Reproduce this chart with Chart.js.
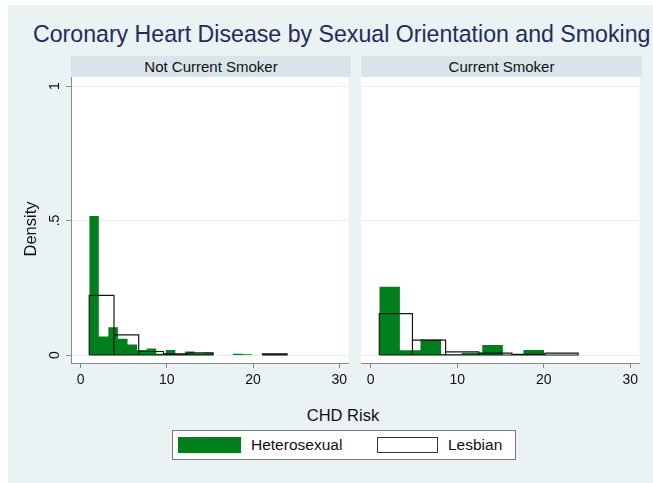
<!DOCTYPE html>
<html><head><meta charset="utf-8">
<script src="https://cdn.jsdelivr.net/npm/chart.js@4.4.1/dist/chart.umd.min.js"></script>
<style>
body{margin:0;width:653px;height:483px;background:#fff;overflow:hidden;position:relative;font-family:"Liberation Sans",Arial,Helvetica,sans-serif}
#bg{position:absolute;left:8px;top:5px;width:645px;height:478px;background:#eaf2f3}
#title{position:absolute;left:33px;top:23.3px;font-size:23.15px;line-height:23px;color:#1e2d5c;white-space:nowrap}
.strip{position:absolute;top:56px;height:21px;line-height:21px;background:#d8e5ea;font-size:15px;color:#111;text-align:center;white-space:nowrap}
.cw{position:absolute;top:77px}
#xtitle{position:absolute;left:243px;width:200px;top:404.7px;text-align:center;font-size:16.5px;line-height:20px;color:#111}
#legend{position:absolute;left:171.5px;top:430px;width:342px;height:28px;border:1px solid #7a7a7a;background:#fff}
.sw{position:absolute;top:436.5px;height:16.5px;box-sizing:border-box}
.lt{position:absolute;top:436.2px;font-size:15.5px;line-height:18px;color:#111;white-space:nowrap}
</style></head><body>
<div id="bg"></div>
<div id="title">Coronary Heart Disease by Sexual Orientation and Smoking</div>
<div class="strip" id="s0" style="left:71px;width:280px"></div>
<div class="strip" id="s1" style="left:361px;width:281px"></div>
<div class="cw" style="left:0px"><canvas id="c0" width="351" height="323"></canvas></div>
<div class="cw" style="left:361px"><canvas id="c1" width="281" height="323"></canvas></div>
<div id="xtitle"></div>
<div id="legend"></div>
<div class="sw" id="sw0" style="left:178px;width:62.7px"></div>
<div class="lt" id="lt0" style="left:251px"></div>
<div class="sw" id="sw1" style="left:376.7px;width:61px;border:1.3px solid #333;background:#fff"></div>
<div class="lt" id="lt1" style="left:448px"></div>
<script>
// ---- data ----
const panels = ['Not Current Smoker', 'Current Smoker'];
const seriesNames = ['Heterosexual', 'Lesbian'];
const xTitle = 'CHD Risk';
const yTitle = 'Density';
const xTicks = [0, 10, 20, 30];
const yTicks = [0, 0.5, 1];
const yTickLabels = ['0', '.5', '1'];

// Not current smoker
const hetNotStart = 1.0, hetNotWidth = 1.11;
const hetNotDensity = [0.517, 0.069, 0.103, 0.060, 0.039, 0.019, 0.024, 0.005, 0.019, 0.004, 0.013, 0.007, 0.008, 0, 0, 0.005, 0.003];
const lesNotStart = 1.0, lesNotWidth = 2.87;
const lesNotDensity = [0.222, 0.075, 0.013, 0.004, 0.008, 0, 0, 0.004];
// Current smoker
const hetCurStart = 1.0, hetCurWidth = 2.38;
const hetCurDensity = [0.254, 0.018, 0.058, 0.003, 0.008, 0.037, 0, 0.019];
const lesCurStart = 1.0, lesCurWidth = 3.83;
const lesCurDensity = [0.154, 0.055, 0.012, 0.007, 0.002, 0.007];

// ---- style ----
const GREEN = '#007f1c';
const FONT = '"Liberation Sans", Arial, Helvetica, sans-serif';
const xMin = -1.115, xMax = 31.07;
const yMin = -0.0297, yMax = 1.0335;

document.getElementById('s0').textContent = panels[0];
document.getElementById('s1').textContent = panels[1];
document.getElementById('xtitle').textContent = xTitle;
document.getElementById('lt0').textContent = seriesNames[0];
document.getElementById('lt1').textContent = seriesNames[1];
document.getElementById('sw0').style.background = GREEN;

function stepProfile(start, width, dens) {
  const pts = [{x: start, y: 0}];
  dens.forEach((d, i) => {
    const x0 = start + i * width, x1 = x0 + width;
    pts.push({x: x0, y: d}, {x: x1, y: d});
  });
  pts.push({x: start + dens.length * width, y: 0});
  return pts;
}
function outlineRects(start, width, dens) {
  const pts = [];
  dens.forEach((d, i) => {
    if (d <= 0) return;
    const x0 = start + i * width, x1 = x0 + width;
    pts.push({x: x0, y: 0}, {x: x0, y: d}, {x: x1, y: d}, {x: x1, y: 0}, {x: x0, y: 0}, {x: x1, y: null});
  });
  return pts;
}

const whiteArea = {
  id: 'whiteArea',
  beforeDraw(chart) {
    const {ctx, chartArea: a} = chart;
    ctx.save(); ctx.fillStyle = '#fff';
    ctx.fillRect(a.left, a.top, a.right - a.left, a.bottom - a.top);
    ctx.restore();
  }
};
const yLabels = {
  id: 'yLabels',
  afterDraw(chart, args, opts) {
    if (!opts.show) return;
    const ctx = chart.ctx, ys = chart.scales.y;
    ctx.save();
    ctx.fillStyle = '#111';
    ctx.textAlign = 'center';
    ctx.textBaseline = 'middle';
    ctx.font = '14px ' + FONT;
    yTicks.forEach((v, i) => {
      ctx.save();
      ctx.translate(55, ys.getPixelForValue(v));
      ctx.rotate(-Math.PI / 2);
      ctx.fillText(yTickLabels[i], 0, 0);
      ctx.restore();
    });
    ctx.font = '16.5px ' + FONT;
    ctx.translate(31.5, 152);
    ctx.rotate(-Math.PI / 2);
    ctx.fillText(yTitle, 0, 0);
    ctx.restore();
  }
};

function makeChart(id, het, les, isLeft) {
  return new Chart(document.getElementById(id), {
    type: 'scatter',
    data: {datasets: [
      {label: seriesNames[1], data: outlineRects(les[0], les[1], les[2]), showLine: true, fill: false,
       borderColor: '#151515', borderWidth: 1.2, pointRadius: 0, tension: 0, spanGaps: false, order: 0,
       borderJoinStyle: 'miter'},
      {label: seriesNames[0], data: stepProfile(het[0], het[1], het[2]), showLine: true, fill: 'origin',
       backgroundColor: GREEN, borderColor: GREEN, borderWidth: 0, pointRadius: 0, tension: 0, order: 1}
    ]},
    options: {
      responsive: false, animation: false,
      layout: {padding: 0},
      plugins: {legend: {display: false}, tooltip: {enabled: false}, yLabels: {show: isLeft}},
      scales: {
        x: {type: 'linear', min: xMin, max: xMax,
            afterBuildTicks: s => { s.ticks = xTicks.map(v => ({value: v})); },
            afterFit: s => { s.height = 37; },
            ticks: {font: {size: 14, family: FONT}, color: '#111', padding: 4, maxRotation: 0, autoSkip: false,
                    callback: v => String(v)},
            grid: {drawOnChartArea: false, tickColor: '#8a8a8a', tickLength: 5},
            border: {display: true, color: '#8a8a8a', width: 1}},
        y: {type: 'linear', min: yMin, max: yMax,
            afterBuildTicks: s => { s.ticks = yTicks.map(v => ({value: v})); },
            afterFit: s => { s.width = isLeft ? 71 : 0; },
            ticks: {display: false},
            grid: {color: '#e5eef0', lineWidth: 1, drawTicks: isLeft, tickColor: '#8a8a8a', tickLength: 5},
            border: {display: isLeft, color: '#8a8a8a', width: 1}}
      }
    },
    plugins: [whiteArea, yLabels]
  });
}
makeChart('c0', [hetNotStart, hetNotWidth, hetNotDensity], [lesNotStart, lesNotWidth, lesNotDensity], true);
makeChart('c1', [hetCurStart, hetCurWidth, hetCurDensity], [lesCurStart, lesCurWidth, lesCurDensity], false);
</script>
</body></html>
